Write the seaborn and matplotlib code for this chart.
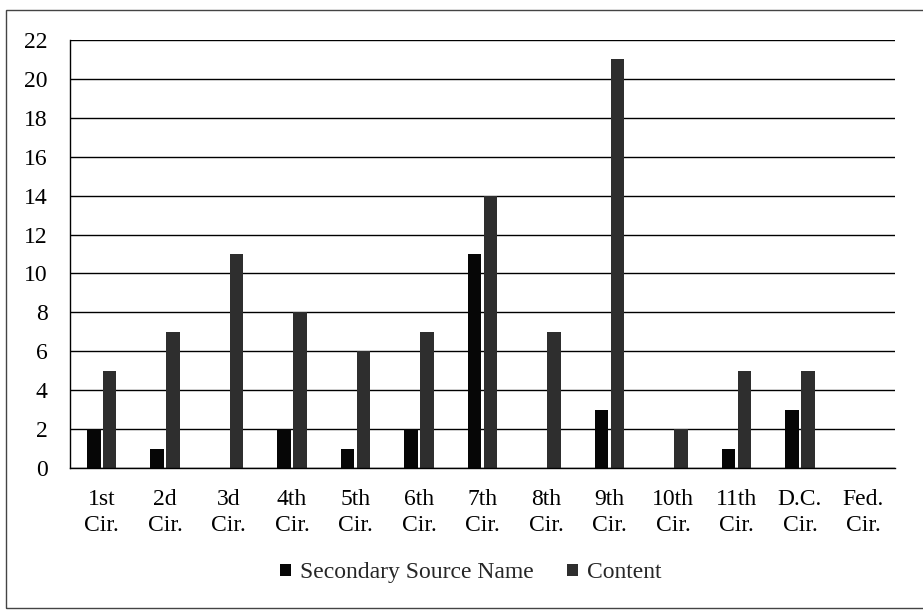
import pandas as pd
import matplotlib.pyplot as plt
import seaborn as sns
from matplotlib.patches import Rectangle

# circuit counts
circuits = ['1st\nCir.', '2d\nCir.', '3d\nCir.', '4th\nCir.', '5th\nCir.', '6th\nCir.',
            '7th\nCir.', '8th\nCir.', '9th\nCir.', '10th\nCir.', '11th\nCir.', 'D.C.\nCir.',
            'Fed.\nCir.']
secondary_source = [2, 1, 0, 2, 1, 2, 11, 0, 3, 0, 1, 3, 0]
content = [5, 7, 11, 8, 6, 7, 14, 7, 21, 2, 5, 5, 0]
series_names = ['Secondary Source Name', 'Content']
y_ticks = list(range(0, 23, 2))

df = pd.DataFrame({
    'Circuit': circuits * 2,
    'Count': secondary_source + content,
    'Series': [series_names[0]] * len(circuits) + [series_names[1]] * len(circuits),
})

sns.set_theme(style='white')
plt.rcParams['font.family'] = ['Liberation Serif', 'DejaVu Serif']

fig = plt.figure(figsize=(9.23, 6.10), dpi=100)
ax = fig.add_axes([0.0758, 0.2328, 0.894, 0.7016])
sns.barplot(data=df, x='Circuit', y='Count', hue='Series', palette=['#060606', '#2e2e2e'],
            width=0.5, gap=0.15, saturation=1, linewidth=0, edgecolor='none', ax=ax)

ax.set_ylim(0, 22)
ax.set_yticks(y_ticks)
ax.yaxis.grid(True, color='black', lw=1)
ax.set_axisbelow(True)
ax.set_xlabel('')
ax.set_ylabel('')
for s in ['top', 'right']:
    ax.spines[s].set_visible(False)
for s in ['left', 'bottom']:
    ax.spines[s].set_color('black')
    ax.spines[s].set_linewidth(1)
ax.tick_params(axis='x', length=0, pad=15, labelsize=17, colors='black')
ax.tick_params(axis='y', length=0, pad=16, labelsize=17, colors='black')
for lab in ax.get_xticklabels():
    lab.set_linespacing(1.3)

ax.get_legend().remove()
handles, labels = ax.get_legend_handles_labels()
fig.legend(handles, labels, loc='center', bbox_to_anchor=(0.51, 0.061), ncol=2, frameon=False,
           fontsize=17, handlelength=0.45, handleheight=0.45, handletextpad=0.4, columnspacing=1.4)

# outer chart border
fig.patches.append(Rectangle((6 / 923, 2 / 610), 2, 0.9803, transform=fig.transFigure,
                             fill=False, ec='#444444', lw=1))

plt.savefig('out.png', dpi=100)
plt.close()
